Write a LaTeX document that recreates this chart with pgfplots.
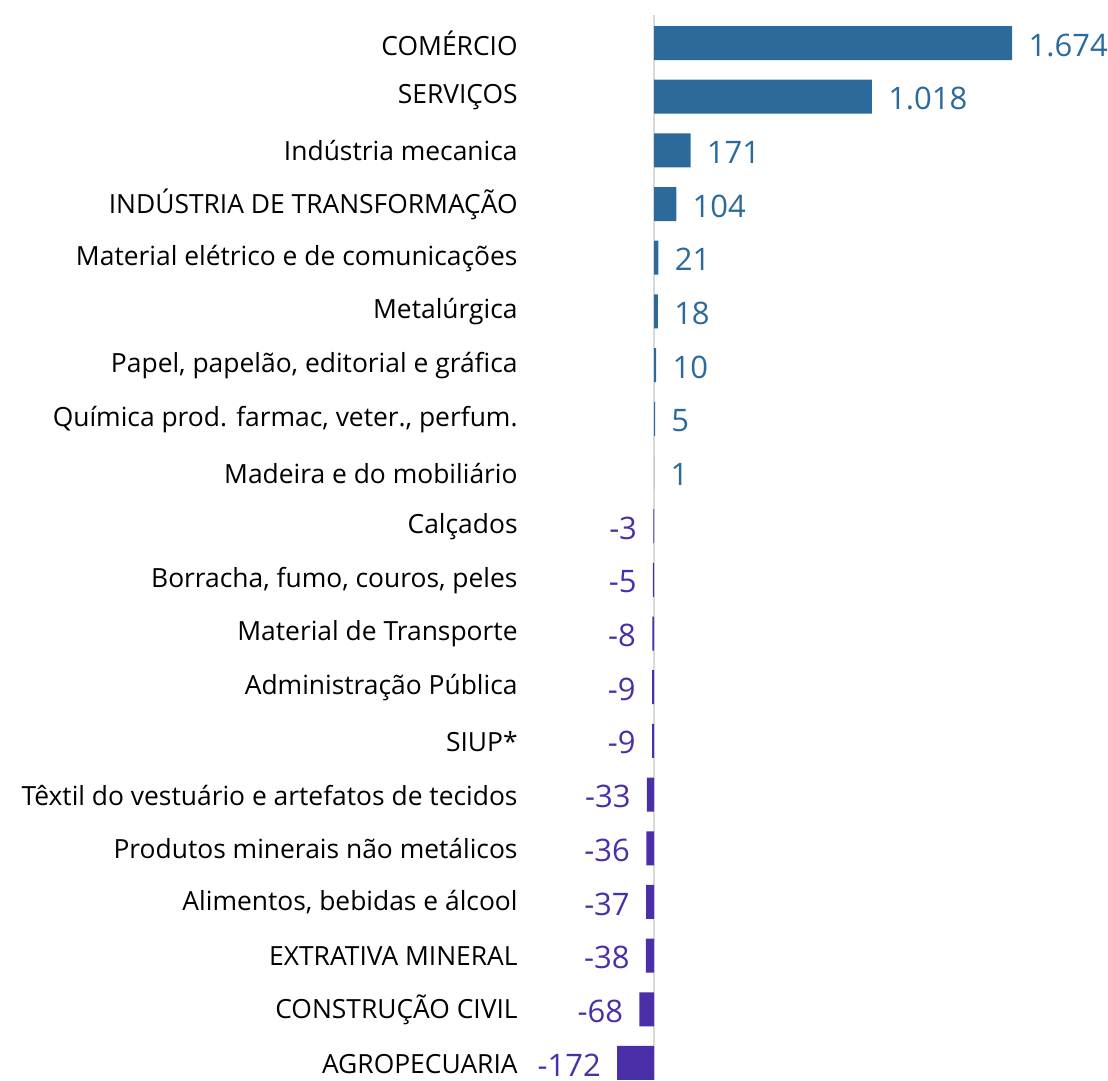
\documentclass[border=0pt]{standalone}
\usepackage{pgfplots}
\pgfplotsset{compat=1.18}
\usepackage{fontspec}
\setmainfont{Open Sans}
\definecolor{pos}{HTML}{2C6A9C}
\definecolor{neg}{HTML}{4B2FA8}
\begin{document}
\begin{tikzpicture}[x=1pt,y=1pt]
\path (0,0) rectangle (554,540);
\begin{axis}[at={(264pt,0pt)}, anchor=south west, scale only axis,
  width=290pt, height=540pt,
  xmin=-588.8, xmax=2121.5, ymin=-0.801, ymax=19.317, y dir=reverse,
  clip=false,
  axis line style={draw=none}, tick style={draw=none},
  xtick=\empty,
  ytick={0,...,19},
  yticklabels={COMÉRCIO, SERVIÇOS, Indústria mecanica, INDÚSTRIA DE TRANSFORMAÇÃO,
    Material elétrico e de comunicações, Metalúrgica, {Papel, papelão, editorial e gráfica},
    {Química prod. farmac, veter., perfum.}, Madeira e do mobiliário, Calçados,
    {Borracha, fumo, couros, peles}, Material de Transporte, Administração Pública,
    SIUP*, Têxtil do vestuário e artefatos de tecidos, Produtos minerais não metálicos,
    {Alimentos, bebidas e álcool}, EXTRATIVA MINERAL, CONSTRUÇÃO CIVIL, AGROPECUARIA},
  y tick label style={anchor=east, inner sep=0pt, xshift=-5pt, yshift=-0.3pt, font=\fontsize{13.2}{15}\selectfont, text=black},
  point meta=explicit symbolic,
  nodes near coords,
]
\draw[color=black!15, line width=1pt] (axis cs:0,-0.52) -- (axis cs:0,19.317);
\addplot[xbar, bar width=17pt, bar shift=0pt, fill=pos, draw=none,
  every node near coord/.append style={anchor=west, inner sep=0pt, xshift=8pt, yshift=-1pt, font=\fontsize{15.5}{18}\selectfont, text=pos}]
  coordinates {(1674,0) [1.674] (1018,1) [1.018] (171,2) [171] (104,3) [104]
    (21,4) [21] (18,5) [18] (10,6) [10] (5,7) [5] (1,8) [1]};
\addplot[xbar, bar width=17pt, bar shift=0pt, fill=neg, draw=none,
  every node near coord/.append style={anchor=east, inner sep=0pt, xshift=-8pt, yshift=-1pt, font=\fontsize{15.5}{18}\selectfont, text=neg}]
  coordinates {(-3,9) [-3] (-5,10) [-5] (-8,11) [-8] (-9,12) [-9] (-9,13) [-9]
    (-33,14) [-33] (-36,15) [-36] (-37,16) [-37] (-38,17) [-38] (-68,18) [-68] (-172,19) [-172]};
\end{axis}
\end{tikzpicture}
\end{document}
